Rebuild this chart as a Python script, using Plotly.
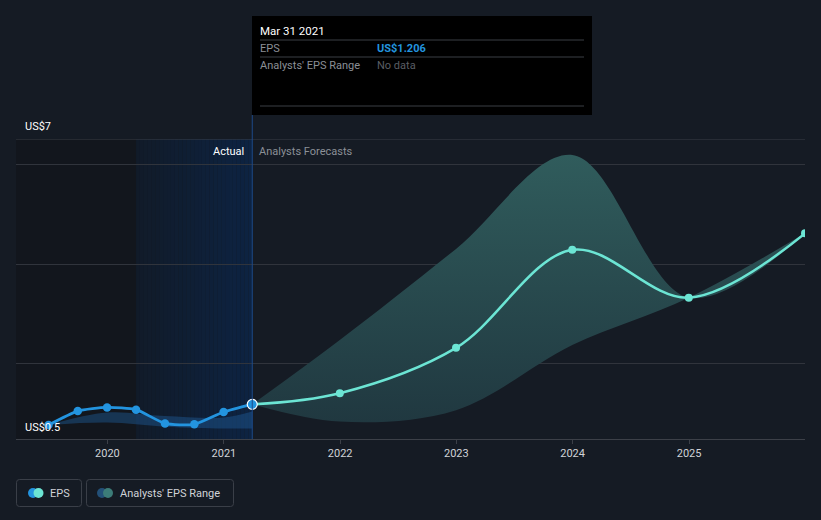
import plotly.graph_objects as go
import pandas as pd

# ---------------- data ----------------
actual_dates = ["2019-06-30", "2019-09-30", "2019-12-31", "2020-03-31",
                "2020-06-30", "2020-09-30", "2020-12-31", "2021-03-31"]
actual_eps = [0.756, 1.06, 1.14, 1.09, 0.79, 0.77, 1.04, 1.206]

hist_range_dates = ["2019-06-30", "2019-12-31", "2020-06-30", "2020-12-31", "2021-03-31"]
hist_range_high = [0.756, 1.03, 0.95, 0.92, 1.05]
hist_range_low = [0.756, 0.81, 0.72, 0.68, 0.68]

fc_dates = ["2021-03-31", "2021-12-31", "2022-12-31", "2023-12-31", "2024-12-31", "2025-12-31"]
fc_eps = [1.206, 1.45, 2.44, 4.58, 3.535, 4.94]
fc_high = [1.206, 2.61, 4.6, 6.65, 3.535, 4.94]
fc_low = [1.206, 0.83, 1.08, 2.5, 3.535, 4.94]

y_grid = [2.09, 4.27, 6.45]
y_top = 7.0
y_labels = {7.0: "US$7", 0.5: "US$0.5"}
x_range = ["2019-03-20", "2025-12-31"]
y_range = [0.45, 7.0]
past_start = "2019-03-20"
highlight_start = "2020-03-31"
today = "2021-03-31"

# ---------------- style ----------------
BG = "#151b24"
BLUE = "#2394df"
TEAL = "#6ce5d4"
FONT = "Roboto"

W, H = 821, 520
L, R, T, B = 16, 16, 139, 81
PW, PH = W - L - R, H - T - B


def px(x):
    return (x - L) / PW


def py(y):
    return (H - B - y) / PH


fig = go.Figure()

# historical range band
fig.add_trace(go.Scatter(x=hist_range_dates, y=hist_range_low, mode="lines",
                         line=dict(width=0, shape="spline", smoothing=1.0),
                         hoverinfo="skip", showlegend=False))
fig.add_trace(go.Scatter(x=hist_range_dates, y=hist_range_high, mode="lines",
                         line=dict(width=0, shape="spline", smoothing=1.0),
                         fill="tonexty", fillcolor="rgba(30,90,150,0.45)",
                         hoverinfo="skip", showlegend=False))

# forecast range band
fig.add_trace(go.Scatter(x=fc_dates, y=fc_low, mode="lines",
                         line=dict(width=0, shape="spline", smoothing=1.0),
                         hoverinfo="skip", showlegend=False))
fig.add_trace(go.Scatter(x=fc_dates, y=fc_high, mode="lines",
                         line=dict(width=0, shape="spline", smoothing=1.0),
                         fill="tonexty",
                         fillgradient=dict(type="vertical",
                                           colorscale=[[0, "#203840"], [1, "#305c5c"]]),
                         hoverinfo="skip", showlegend=False))

# forecast line
fig.add_trace(go.Scatter(x=fc_dates, y=fc_eps, mode="lines+markers",
                         line=dict(color=TEAL, width=2.5, shape="spline", smoothing=1.0),
                         marker=dict(color=TEAL, size=8),
                         hoverinfo="skip", showlegend=False))

# actual line
fig.add_trace(go.Scatter(x=actual_dates, y=actual_eps, mode="lines+markers",
                         line=dict(color=BLUE, width=2.8, shape="spline", smoothing=0.6),
                         marker=dict(color=BLUE, size=8.5),
                         hoverinfo="skip", showlegend=False))
fig.add_trace(go.Scatter(x=[actual_dates[-1]], y=[actual_eps[-1]], mode="markers",
                         marker=dict(color=BLUE, size=10, line=dict(color="white", width=1.2)),
                         hoverinfo="skip", showlegend=False))

shapes = []
# past dark region
shapes.append(dict(type="rect", xref="x", yref="paper", x0=past_start, x1=highlight_start,
                   y0=0, y1=1, fillcolor="#12161d", line_width=0, layer="below"))
# highlight gradient region
edges = pd.date_range(highlight_start, today, periods=31)
c0, c1 = (17, 27, 41), (13, 35, 66)
n = len(edges) - 1
for i in range(n):
    t = i / (n - 1)
    col = tuple(round(a + (b - a) * t) for a, b in zip(c0, c1))
    shapes.append(dict(type="rect", xref="x", yref="paper", x0=edges[i], x1=edges[i + 1],
                       y0=0, y1=1, fillcolor="rgb(%d,%d,%d)" % col, line_width=0,
                       layer="below"))
# top grid line
shapes.append(dict(type="line", xref="paper", yref="y", x0=0, x1=1, y0=y_top, y1=y_top,
                   line=dict(color="#3a3e46", width=1)))
# today vertical line
shapes.append(dict(type="line", xref="x", yref="paper", x0=today, x1=today,
                   y0=0, y1=py(115), line=dict(color="#1d4a88", width=1)))

# tooltip box
shapes.append(dict(type="rect", xref="paper", yref="paper", x0=px(252), x1=px(592),
                   y0=py(115), y1=py(16), fillcolor="#000000", line_width=0))
for yy in (40, 57, 106):
    shapes.append(dict(type="line", xref="paper", yref="paper", x0=px(260), x1=px(584),
                       y0=py(yy), y1=py(yy), line=dict(color="#3b3f45", width=1)))


def rounded(x0, y0, x1, y1, r=3):
    X = lambda v: px(v)
    Y = lambda v: py(v)
    return (f"M {X(x0+r)} {Y(y0)} L {X(x1-r)} {Y(y0)} Q {X(x1)} {Y(y0)} {X(x1)} {Y(y0+r)} "
            f"L {X(x1)} {Y(y1-r)} Q {X(x1)} {Y(y1)} {X(x1-r)} {Y(y1)} "
            f"L {X(x0+r)} {Y(y1)} Q {X(x0)} {Y(y1)} {X(x0)} {Y(y1-r)} "
            f"L {X(x0)} {Y(y0+r)} Q {X(x0)} {Y(y0)} {X(x0+r)} {Y(y0)} Z")


# legend boxes
for (a, b) in ((16.5, 81.5), (86.5, 233.5)):
    shapes.append(dict(type="path", xref="paper", yref="paper", path=rounded(a, 479.5, b, 506.5),
                       line=dict(color="#3a3f48", width=1), fillcolor="rgba(0,0,0,0)"))


def circle(cx, cy, r, color):
    return dict(type="circle", xref="paper", yref="paper", x0=px(cx - r), x1=px(cx + r),
                y0=py(cy + r), y1=py(cy - r), fillcolor=color, line_width=0)


shapes += [circle(33, 493, 5, BLUE), circle(38.5, 493, 5, TEAL),
           circle(102, 493, 5, "#235078"), circle(108, 493, 5, "#3c7c78")]


def txt(text, x, y, color, xanchor="left", xref="paper", yref="paper", xshift=0, size=11):
    return dict(text=text, x=x, y=y, xref=xref, yref=yref, xanchor=xanchor, yanchor="middle",
                xshift=xshift, showarrow=False, font=dict(color=color, size=size))


ann = [
    txt(y_labels[7.0], px(23), py(127), "#ffffff"),
    txt(y_labels[0.5], px(23), py(427), "#ffffff"),
    txt("Actual", today, py(151), "#ffffff", xanchor="right", xref="x", xshift=-6),
    txt("Analysts Forecasts", today, py(151), "#8b9097", xref="x", xshift=5),
    txt("Mar 31 2021", px(258), py(31), "#ffffff", size=11.5),
    txt("EPS", px(258), py(48.5), "#8b8f96"),
    txt("<b>US$1.206</b>", px(375), py(48.5), BLUE),
    txt("Analysts' EPS Range", px(258), py(65.5), "#8b8f96"),
    txt("No data", px(375), py(65.5), "#5a5e64"),
    txt("EPS", px(48), py(493), "#d0d3d8"),
    txt("Analysts' EPS Range", px(118), py(493), "#d0d3d8"),
]

fig.update_layout(
    width=W, height=H,
    margin=dict(l=L, r=R, t=T, b=B, pad=0),
    paper_bgcolor=BG, plot_bgcolor=BG,
    font=dict(family=FONT, size=11, color="#d0d3d8"),
    shapes=shapes, annotations=ann,
    showlegend=False,
    xaxis=dict(type="date", range=x_range, showgrid=False, zeroline=False,
               showline=True, linecolor="#3c4048", linewidth=1,
               ticks="outside", ticklen=4, tickcolor="#3c4048",
               dtick="M12", tick0="2020-01-01", tickformat="%Y",
               tickfont=dict(color="#d0d3d8", size=11), fixedrange=True),
    yaxis=dict(range=y_range, tickvals=y_grid, showticklabels=False, showgrid=True,
               gridcolor="#30343c", gridwidth=1, zeroline=False, showline=False,
               fixedrange=True),
)

fig.write_html("out.html")
